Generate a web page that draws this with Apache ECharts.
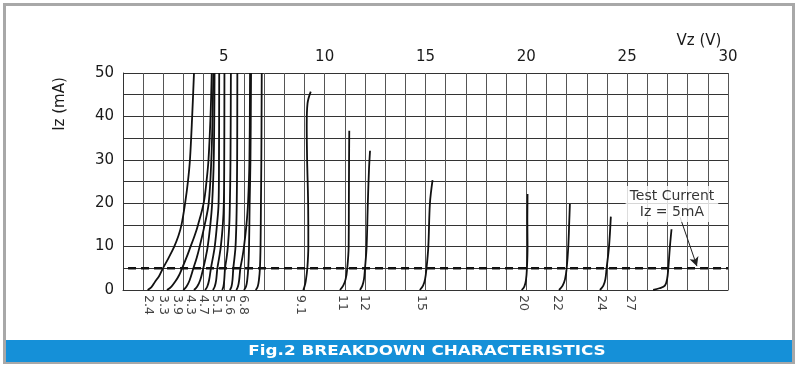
<!DOCTYPE html>
<html><head><meta charset="utf-8">
<script src="https://cdn.jsdelivr.net/npm/echarts@6/dist/echarts.min.js"></script>
<style>html,body{margin:0;padding:0;background:#fff}#c{width:800px;height:367px}</style>
</head><body><div id="c"></div>
<script>
// ---- data: Zener breakdown curves, [Vz (V), Iz (mA)] ----
const curveA = [[1.22,0],[1.4,0.6],[1.59,1.9],[1.8,3.3],[1.98,5],[2.25,7.3],[2.54,10],[2.75,12.5],[2.9,15],[3.08,20],[3.22,25],[3.32,30],[3.43,40],[3.52,50]];
const curveB = [[2.18,0],[2.4,0.8],[2.6,2],[2.78,3.4],[2.93,5],[3.15,7.5],[3.35,10],[3.55,12.5],[3.72,15],[4.0,20],[4.14,25],[4.24,30],[4.34,40],[4.4,50]];
const curveC = [[2.99,0],[3.15,0.8],[3.3,2.2],[3.49,5],[3.66,7.5],[3.8,10],[4.05,15],[4.25,20],[4.38,30],[4.44,40],[4.48,50]];
const curveD = [[3.52,0],[3.68,0.8],[3.83,2.3],[3.98,5],[4.1,7.5],[4.2,10],[4.33,15],[4.42,20],[4.5,30],[4.54,50]];
const curveE = [[4.07,0],[4.18,0.8],[4.27,2.3],[4.36,5],[4.46,7.5],[4.55,10],[4.66,15],[4.74,20],[4.76,30],[4.77,50]];
const curveF = [[4.46,0],[4.55,0.8],[4.62,2.3],[4.68,5],[4.77,7.5],[4.85,10],[4.95,15],[5.0,20],[5.02,30],[5.03,50]];
const curveG = [[4.92,0],[4.98,0.8],[5.02,2.3],[5.06,5],[5.14,7.5],[5.2,10],[5.27,15],[5.3,20],[5.33,30],[5.35,50]];
const curveH = [[5.3,0],[5.38,0.8],[5.43,2.3],[5.47,5],[5.53,7.5],[5.58,10],[5.62,15],[5.64,20],[5.66,30],[5.67,50]];
const curveI = [[5.62,0],[5.7,0.8],[5.76,2.3],[5.82,5],[5.92,7.5],[6.0,10],[6.12,15],[6.2,20],[6.27,30],[6.3,50]];
const curveJ = [[6.0,0],[6.1,0.8],[6.16,2.3],[6.21,5],[6.25,10],[6.28,20],[6.32,30],[6.35,50]];
const curveK = [[6.58,0],[6.68,0.8],[6.74,2.3],[6.79,5],[6.82,10],[6.84,20],[6.86,30],[6.88,50]];
const curve9v1 = [[8.94,0],[9.0,0.8],[9.06,2],[9.14,5],[9.19,10],[9.18,20],[9.13,30],[9.11,38],[9.15,43],[9.31,45.7]];
const curve11 = [[10.76,0],[10.92,1],[11.04,2.5],[11.12,5],[11.19,10],[11.2,20],[11.21,30],[11.22,36.7]];
const curve12 = [[11.75,0],[11.87,1],[11.95,2.5],[12.0,5],[12.08,10],[12.14,20],[12.2,28],[12.25,32.1]];
const curve15 = [[14.72,0],[14.88,1],[14.98,2.5],[15.05,5],[15.14,10],[15.22,20],[15.35,25.3]];
const curve20 = [[19.77,0],[19.9,0.8],[19.98,2.2],[20.03,5],[20.06,10],[20.05,16],[20.06,22.1]];
const curve22 = [[21.62,0],[21.8,1],[21.92,2.5],[22.0,5],[22.08,10],[22.13,16],[22.16,19.8]];
const curve24 = [[23.65,0],[23.82,1],[23.92,2.5],[23.98,5],[24.1,10],[24.19,16.9]];
const curve27 = [[26.29,0],[26.6,0.4],[26.87,1],[26.98,2.5],[27.04,5],[27.12,10],[27.2,14]];

const footLabels = ['2.4','3.3','3.9','4.3','4.7','5.1','5.6','6.8','9.1','11','12','15','20','22','24','27'];
const footLabelV = [1.24,1.98,2.68,3.32,3.97,4.61,5.25,5.95,8.78,10.86,11.94,14.77,19.83,21.51,23.7,25.14];

const testCurrent = [[0.25,5],[30,5]];
const testNotePoint = [27.22, 19.8];
const arrowFrom = [27.62, 16.8];
const arrowTo = [28.46, 5.5];

const xTickLabels = [5,10,15,20,25,30];
const yTickLabels = [0,10,20,30,40,50];

const FONT = 'DejaVu Sans';
const curves = [curveA,curveB,curveC,curveD,curveE,curveF,curveG,curveH,curveI,curveJ,curveK,
  curve9v1,curve11,curve12,curve15,curve20,curve22,curve24,curve27];

const series = curves.map((d,i) => ({
  type:'line', name:'c'+i, data:d, smooth:0.35, symbol:'none', clip:false,
  lineStyle:{color:'#111', width:1.8}, z:4, silent:true
}));
series.push({
  type:'line', name:'test', data:testCurrent, symbol:'none', z:3, silent:true,
  lineStyle:{color:'#111', width:2.6, type:[8,5]},
  markLine:{
    silent:true, symbol:['none','arrow'], symbolSize:[7,9],
    lineStyle:{color:'#222', width:1, type:'solid'}, label:{show:false},
    data:[[{coord:arrowFrom},{coord:arrowTo}]]
  }
});
series.push({
  type:'scatter', name:'footLabels', symbolSize:0, itemStyle:{color:'#222'}, z:5, silent:true, clip:false,
  data: footLabelV.map((v,i)=>({value:[v,0], name:footLabels[i]})),
  label:{show:true, formatter:p=>p.name, position:[0,5], rotate:-90, align:'left', verticalAlign:'middle',
    fontFamily:FONT, fontSize:12.5, color:'#111'}
});
series.push({
  type:'scatter', name:'note', symbolSize:0, itemStyle:{color:'#222'}, z:6, silent:true,
  data:[{value:testNotePoint}],
  label:{show:true, position:'inside', formatter:'Test Current\nIz = 5mA', fontFamily:FONT, fontSize:14,
    lineHeight:16, color:'#000', align:'center', verticalAlign:'middle', backgroundColor:'#fff', padding:[2,4,2,4]}
});

const chart = echarts.init(document.getElementById('c'));
chart.setOption({
  animation:false,
  backgroundColor:'#fff',
  grid:{left:123, top:73, right:72, bottom:77, containLabel:false},
  xAxis:{
    type:'value', position:'top', min:0, max:30, interval:1,
    axisLine:{show:true, lineStyle:{color:'#333'}}, axisTick:{show:false},
    axisLabel:{margin:8, fontFamily:FONT, fontSize:15, color:'#1a1a1a',
      formatter:v=> xTickLabels.includes(v) ? String(v) : ''},
    splitLine:{show:true, lineStyle:{color:'#555', width:1}}
  },
  yAxis:{
    type:'value', min:0, max:50, interval:5,
    axisLine:{show:true, lineStyle:{color:'#333'}}, axisTick:{show:false},
    axisLabel:{margin:9, fontFamily:FONT, fontSize:15, color:'#1a1a1a',
      formatter:v=> yTickLabels.includes(v) ? String(v) : ''},
    splitLine:{show:true, lineStyle:{color:'#333', width:1}}
  },
  graphic:[
    {type:'rect', shape:{x:4.5,y:4.5,width:789,height:358}, style:{fill:'none', stroke:'#a8a8a8', lineWidth:3}, z:-1},
    {type:'rect', shape:{x:6,y:340,width:786,height:22}, style:{fill:'#1590d8'}, z:1},
    {type:'text', x:427, y:351.5, scaleX:1.2, style:{text:'Fig.2 BREAKDOWN CHARACTERISTICS', fill:'#fff',
      font:'bold 14px "DejaVu Sans"', align:'center', verticalAlign:'middle'}, z:2},
    {type:'text', x:60, y:104, rotation:Math.PI/2, style:{text:'Iz (mA)', fill:'#1a1a1a',
      font:'15px "DejaVu Sans"', align:'center', verticalAlign:'middle'}},
    {type:'text', x:699, y:41, style:{text:'Vz (V)', fill:'#1a1a1a',
      font:'15px "DejaVu Sans"', align:'center', verticalAlign:'middle'}}
  ],
  series
});
</script></body></html>
